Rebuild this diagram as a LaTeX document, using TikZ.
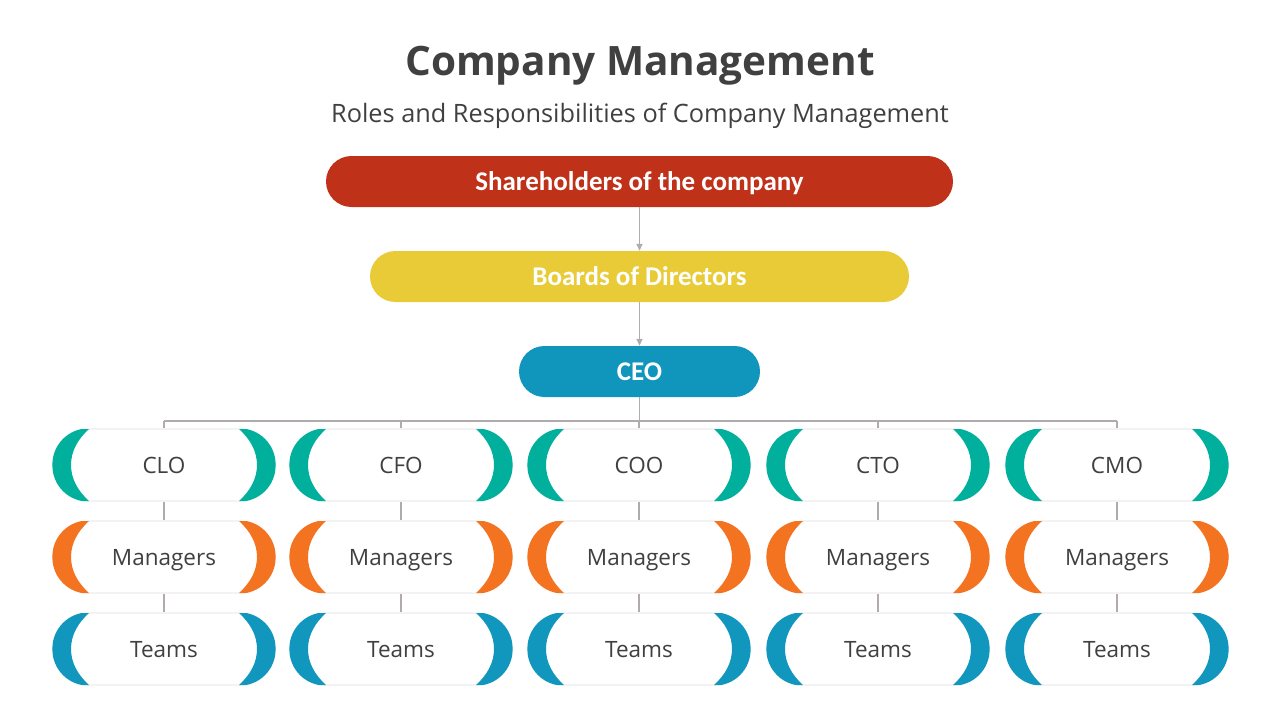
\documentclass[tikz,border=0pt]{standalone}
\usepackage{fontspec}
\setmainfont{Open Sans}
\newfontfamily\pillfont{Carlito}
\usetikzlibrary{arrows.meta}

\definecolor{titlegray}{HTML}{404040}
\definecolor{linegray}{HTML}{B1ABAE}
\definecolor{shred}{HTML}{C0311A}
\definecolor{boardyellow}{HTML}{E9CB38}
\definecolor{ceoblue}{HTML}{1095BD}
\definecolor{chiefteal}{HTML}{00B09C}
\definecolor{mgrorange}{HTML}{F37321}
\definecolor{teamblue}{HTML}{1197BE}

% coloured end pieces of a card: #1 node name, #2 colour
\newcommand{\crescents}[2]{%
  \begin{scope}
    \clip[rounded corners=36pt] (#1.north west) rectangle (#1.south east);
    \begin{scope}[shift={(#1.center)}]
      \fill[#2] (-75,-36) .. controls (-86,-26) and (-93,-14) .. (-93,0)
        .. controls (-93,14) and (-86,26) .. (-75,36) -- (-120,36) -- (-120,-36) -- cycle;
      \fill[#2] (75,-36) .. controls (86,-26) and (93,-14) .. (93,0)
        .. controls (93,14) and (86,26) .. (75,36) -- (120,36) -- (120,-36) -- cycle;
    \end{scope}
  \end{scope}}

\begin{document}
\begin{tikzpicture}[x=1pt, y=-1pt,
  pill/.style={rectangle, rounded corners=25.5pt, minimum height=51pt, inner sep=0pt,
    text height=17.4pt, text depth=0pt,
    text=white, font=\pillfont\bfseries\fontsize{27}{32}\selectfont},
  card/.style={rectangle, rounded corners=36pt, minimum width=222pt, minimum height=72pt,
    inner sep=0pt, fill=white, draw=black!7, line width=1.2pt, text=titlegray,
    text height=16pt, text depth=0pt,
    font=\fontsize{22.5}{27}\selectfont},
  link/.style={draw=linegray, line width=1.5pt},
  flow/.style={link, -{Triangle[length=7pt, width=6pt]}}]

  \useasboundingbox (0,0) rectangle (1280,720);

  %% Heading
  \node[text=titlegray, font=\bfseries\fontsize{40.5}{46}\selectfont] (title) at (640,66) {Company Management};
  \node[text=titlegray, font=\fontsize{25.3}{30}\selectfont] (subtitle) at (640,116) {Roles and Responsibilities of Company Management};

  %% Top of the chain
  \node[pill, fill=shred, minimum width=627pt] (share) at (639.5,181.5) {Shareholders of the company};
  \node[pill, fill=boardyellow, minimum width=539pt] (board) at (639.5,276.5) {Boards of Directors};
  \node[pill, fill=ceoblue, minimum width=241pt] (ceo) at (639.5,371.5) {CEO};

  \draw[flow] (share.south) -- (board.north);
  \draw[flow] (board.south) -- (ceo.north);

  %% Chiefs
  \node[card] (clo) at (164,465) {CLO};
  \node[card] (cfo) at (401,465) {CFO};
  \node[card] (coo) at (639,465) {COO};
  \node[card] (cto) at (878,465) {CTO};
  \node[card] (cmo) at (1117,465) {CMO};

  %% Managers
  \node[card] (mgrclo) at (164,557) {Managers};
  \node[card] (mgrcfo) at (401,557) {Managers};
  \node[card] (mgrcoo) at (639,557) {Managers};
  \node[card] (mgrcto) at (878,557) {Managers};
  \node[card] (mgrcmo) at (1117,557) {Managers};

  %% Teams
  \node[card] (teamclo) at (164,649) {Teams};
  \node[card] (teamcfo) at (401,649) {Teams};
  \node[card] (teamcoo) at (639,649) {Teams};
  \node[card] (teamcto) at (878,649) {Teams};
  \node[card] (teamcmo) at (1117,649) {Teams};

  % End pieces
  \crescents{clo}{chiefteal}   \crescents{cfo}{chiefteal}   \crescents{coo}{chiefteal}
  \crescents{cto}{chiefteal}   \crescents{cmo}{chiefteal}
  \crescents{mgrclo}{mgrorange} \crescents{mgrcfo}{mgrorange} \crescents{mgrcoo}{mgrorange}
  \crescents{mgrcto}{mgrorange} \crescents{mgrcmo}{mgrorange}
  \crescents{teamclo}{teamblue} \crescents{teamcfo}{teamblue} \crescents{teamcoo}{teamblue}
  \crescents{teamcto}{teamblue} \crescents{teamcmo}{teamblue}

  %% Bus from the CEO to the chiefs
  \coordinate (bus) at (639,421);
  \draw[link] (ceo.south) -- (ceo.south |- bus);
  \draw[link] (clo.north |- bus) -- (cmo.north |- bus);
  \draw[link] (clo.north |- bus) -- (clo.north);
  \draw[link] (cfo.north |- bus) -- (cfo.north);
  \draw[link] (coo.north |- bus) -- (coo.north);
  \draw[link] (cto.north |- bus) -- (cto.north);
  \draw[link] (cmo.north |- bus) -- (cmo.north);

  %% Down each column
  \draw[link] (clo.south) -- (mgrclo.north);
  \draw[link] (cfo.south) -- (mgrcfo.north);
  \draw[link] (coo.south) -- (mgrcoo.north);
  \draw[link] (cto.south) -- (mgrcto.north);
  \draw[link] (cmo.south) -- (mgrcmo.north);
  \draw[link] (mgrclo.south) -- (teamclo.north);
  \draw[link] (mgrcfo.south) -- (teamcfo.north);
  \draw[link] (mgrcoo.south) -- (teamcoo.north);
  \draw[link] (mgrcto.south) -- (teamcto.north);
  \draw[link] (mgrcmo.south) -- (teamcmo.north);
\end{tikzpicture}
\end{document}
